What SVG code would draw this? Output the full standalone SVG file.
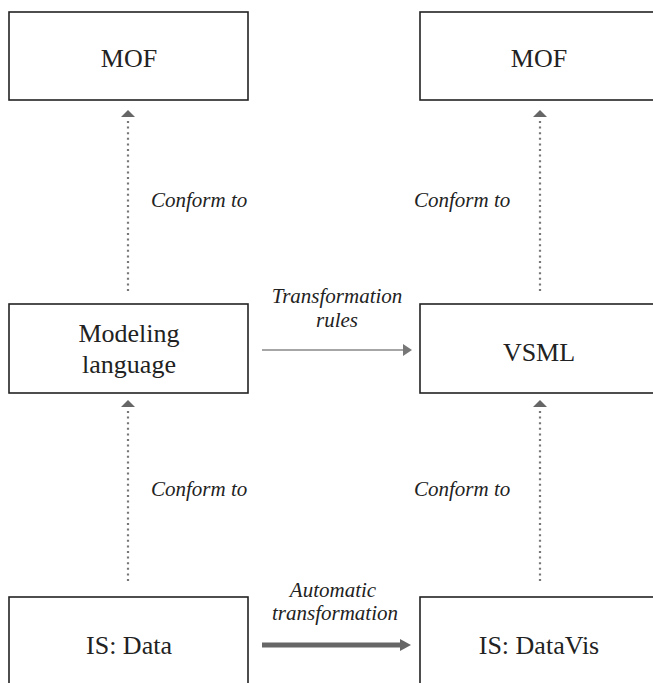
<svg xmlns="http://www.w3.org/2000/svg" width="653" height="683" viewBox="0 0 653 683">
<style>
.box{fill:#fff;stroke:#222;stroke-width:1.6}
.lbl{font-size:26px;fill:#222;text-anchor:middle}
.it{font-size:21px;font-style:italic;fill:#222}
.dot{stroke:#777;stroke-width:2.2;stroke-dasharray:2 3.6;fill:none}
.head{fill:#666}
</style>
<rect width="653" height="683" fill="#fff"/>
<g font-family="Liberation Serif, serif">
<g id="mof-left">
<rect class="box" x="9" y="12" width="239" height="88"/>
<text class="lbl" x="129" y="67">MOF</text>
</g>
<g id="mof-right">
<rect class="box" x="420" y="12" width="245" height="88"/>
<text class="lbl" x="539" y="67">MOF</text>
</g>
<g id="modeling-language">
<rect class="box" x="9" y="304" width="239" height="89"/>
<text class="lbl" x="129" y="342">Modeling</text>
<text class="lbl" x="129" y="373">language</text>
</g>
<g id="vsml">
<rect class="box" x="420" y="304" width="245" height="89"/>
<text class="lbl" x="539" y="361">VSML</text>
</g>
<g id="is-data">
<rect class="box" x="9" y="597" width="239" height="100"/>
<text class="lbl" x="129" y="654">IS: Data</text>
</g>
<g id="is-datavis">
<rect class="box" x="420" y="597" width="245" height="100"/>
<text class="lbl" x="539" y="654">IS: DataVis</text>
</g>
<g id="connectors">
<line class="dot" x1="128" y1="121" x2="128" y2="291"/>
<polygon class="head" points="121,117 135,117 128,110"/>
<line class="dot" x1="540" y1="121" x2="540" y2="291"/>
<polygon class="head" points="533,117 547,117 540,110"/>
<line class="dot" x1="128" y1="411" x2="128" y2="581"/>
<polygon class="head" points="121,407 135,407 128,400"/>
<line class="dot" x1="540" y1="411" x2="540" y2="581"/>
<polygon class="head" points="533,407 547,407 540,400"/>
<line x1="262" y1="350" x2="404" y2="350" stroke="#888" stroke-width="1.6"/>
<polygon points="403,344 412,350 403,356" fill="#777"/>
<line x1="262" y1="645" x2="401" y2="645" stroke="#666" stroke-width="5"/>
<polygon points="400,639 411,645 400,651" fill="#666"/>
</g>
<g id="labels">
<text class="it" x="151" y="207">Conform to</text>
<text class="it" x="414" y="207">Conform to</text>
<text class="it" x="151" y="496">Conform to</text>
<text class="it" x="414" y="496">Conform to</text>
<text class="it" x="337" y="303" text-anchor="middle">Transformation</text>
<text class="it" x="337" y="327" text-anchor="middle">rules</text>
<text class="it" x="333" y="597" text-anchor="middle">Automatic</text>
<text class="it" x="335" y="620" text-anchor="middle">transformation</text>
</g>
</g>
</svg>
